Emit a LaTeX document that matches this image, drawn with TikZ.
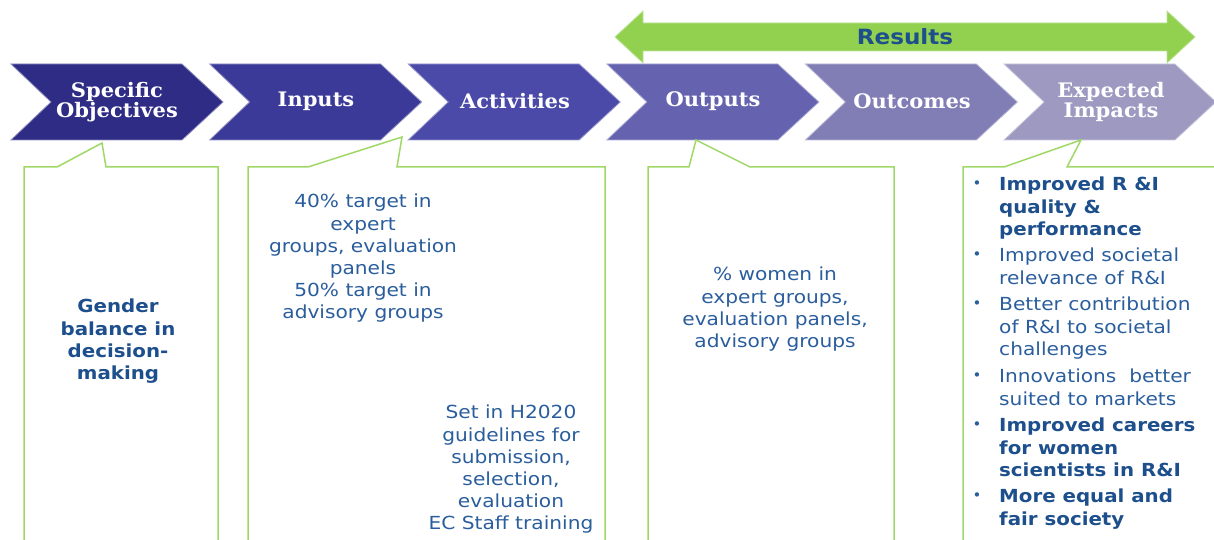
\documentclass[tikz,border=0pt]{standalone}
\usepackage{fontspec}
\setmainfont{DejaVu Sans}
\newfontfamily\bodyfont[FakeStretch=1.12,BoldFeatures={FakeStretch=1.1}]{DejaVu Sans}
\newfontfamily\chevfont[FakeStretch=1.05]{DejaVu Serif}
\newfontfamily\resfont[FakeStretch=1.1]{DejaVu Sans}
\definecolor{cA}{HTML}{2E2C85}
\definecolor{cB}{HTML}{3B3A98}
\definecolor{cC}{HTML}{4B4AA9}
\definecolor{cD}{HTML}{6563B0}
\definecolor{cE}{HTML}{817EB6}
\definecolor{cF}{HTML}{9D99C1}
\definecolor{resgreen}{HTML}{92D050}
\definecolor{callgreen}{HTML}{A0D868}
\definecolor{txtblue}{HTML}{2A5D9C}
\definecolor{boldblue}{HTML}{1D4F8C}
\begin{document}
\begin{tikzpicture}[x=1pt,y=-1pt,
  chevlabel/.style={text=white,font=\chevfont\bfseries\fontsize{20}{19.5}\selectfont,align=center,inner sep=0pt},
  bodytext/.style={text=txtblue,font=\bodyfont\fontsize{18}{22.2}\selectfont,align=center,inner sep=0pt},
  boldtext/.style={text=boldblue,font=\bodyfont\bfseries\fontsize{18}{22.2}\selectfont,align=center,inner sep=0pt},
  itemtext/.style={text=txtblue,font=\bodyfont\fontsize{18}{22.5}\selectfont,align=left,inner sep=0pt,anchor=north west},
  itembold/.style={text=boldblue,font=\bodyfont\bfseries\fontsize{18}{22.5}\selectfont,align=left,inner sep=0pt,anchor=north west},
  bulletmark/.style={text=txtblue,font=\fontsize{15}{15}\selectfont,inner sep=0pt},
  callout/.style={draw=callgreen,line width=1.5pt,line join=miter}
]
\useasboundingbox (0,0) rectangle (1214,540);
\clip (0,0) rectangle (1214,540);

% Results double arrow
\draw[fill=resgreen,draw=resgreen!60!white,line width=0.8pt]
  (615,37) -- (643,11) -- (643,23) -- (1167,23) -- (1167,11) -- (1195,37)
  -- (1167,63) -- (1167,51) -- (643,51) -- (643,63) -- cycle;
\node[text=boldblue,font=\resfont\bfseries\fontsize{21}{21}\selectfont,inner sep=0pt] (results) at (905,37) {Results};

% Chevrons
\foreach \i/\col in {0/cA,1/cB,2/cC,3/cD,4/cE,5/cF}{
  \pgfmathsetmacro{\L}{11+198.6*\i}
  \draw[fill=\col,draw=\col!55!white,line width=0.8pt]
    (\L,64) -- ({\L+171},64) -- ({\L+212},102) -- ({\L+171},140) -- (\L,140) -- ({\L+40},102) -- cycle;
}
\node[chevlabel] (so) at (117,102) {Specific\\Objectives};
\node[chevlabel] (inp) at (316,101) {Inputs};
\node[chevlabel] (act) at (515,101) {Activities};
\node[chevlabel] (outp) at (713,101) {Outputs};
\node[chevlabel] (outc) at (912,101) {Outcomes};
\node[chevlabel] (imp) at (1111,102) {Expected\\Impacts};

% Callouts
\draw[callout] (24,550) -- (24,167) -- (57,167) -- (102,143) -- (106,167) -- (218,167) -- (218,550);
\draw[callout] (248,550) -- (248,167) -- (308,167) -- (402,137) -- (397,167) -- (605,167) -- (605,550);
\draw[callout] (648,550) -- (648,167) -- (689,167) -- (696,140) -- (750,167) -- (894,167) -- (894,550);
\draw[callout] (963,550) -- (963,167) -- (1004,167) -- (1081,140) -- (1067,167) -- (1225,167);

% Callout texts
\node[boldtext,anchor=north] (gender) at (118,299) {Gender\\balance in\\decision-\\making};
\node[bodytext,anchor=north] (targets) at (363,194) {40\% target in\\expert\\groups, evaluation\\panels\\50\% target in\\advisory groups};
\node[bodytext,anchor=north] (h2020) at (511,405) {Set in H2020\\guidelines for\\submission,\\selection,\\evaluation\\EC Staff training};
\node[bodytext,anchor=north] (women) at (775,267) {\% women in\\expert groups,\\evaluation panels,\\advisory groups};

% Impacts list
\node[itembold] (i1) at (999,177) {Improved R \&I\\quality \&\\performance};
\node[itemtext] (i2) at (999,248) {Improved societal\\relevance of R\&I};
\node[itemtext] (i3) at (999,297) {Better contribution\\of R\&I to societal\\challenges};
\node[itemtext] (i4) at (999,369) {Innovations\ \ better\\suited to markets};
\node[itembold] (i5) at (999,418) {Improved careers\\for women\\scientists in R\&I};
\node[itembold] (i6) at (999,489) {More equal and\\fair society};
\node[bulletmark] (b1) at (977,185) {•};
\node[bulletmark] (b2) at (977,256) {•};
\node[bulletmark] (b3) at (977,305) {•};
\node[bulletmark] (b4) at (977,377) {•};
\node[bulletmark] (b5) at (977,426) {•};
\node[bulletmark] (b6) at (977,497) {•};
\end{tikzpicture}
\end{document}
